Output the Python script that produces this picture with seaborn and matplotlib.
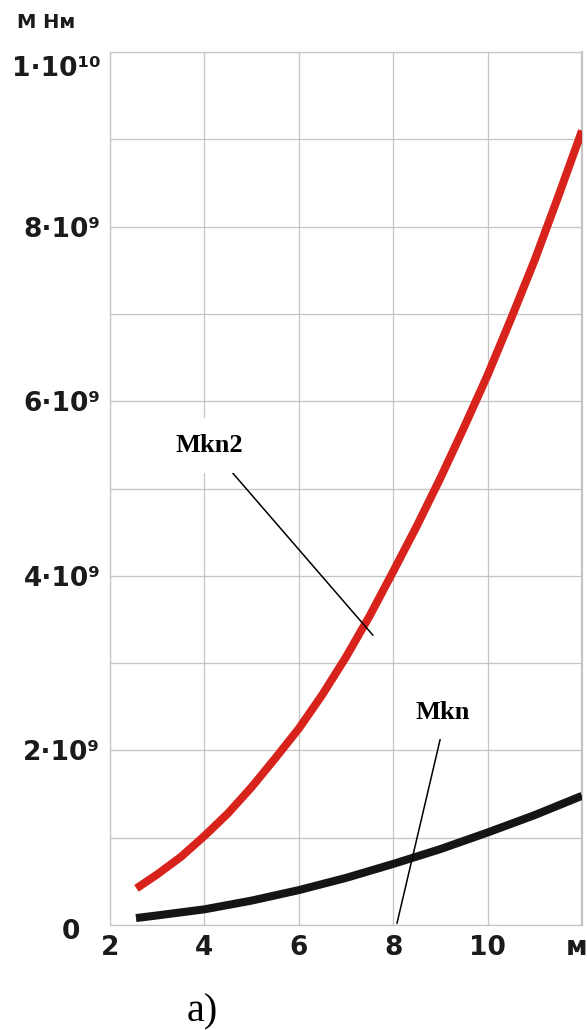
import matplotlib
matplotlib.use("Agg")
import matplotlib.pyplot as plt
import matplotlib.transforms as mtransforms
from matplotlib.ticker import MultipleLocator
import pandas as pd
import seaborn as sns

# Span length, m
span_mkn2 = [2.56, 3.0, 3.5, 4.0, 4.5, 5.0, 5.5, 6.0, 6.5, 7.0, 7.5, 8.0,
             8.5, 9.0, 9.5, 10.0, 10.5, 11.0, 11.5, 12.0]
# Moment Mkn2, N·m
moment_mkn2 = [0.42e9, 0.58e9, 0.78e9, 1.02e9, 1.28e9, 1.58e9, 1.91e9, 2.25e9,
               2.64e9, 3.07e9, 3.54e9, 4.05e9, 4.57e9, 5.12e9, 5.70e9, 6.30e9,
               6.95e9, 7.62e9, 8.35e9, 9.10e9]

span_mkn = [2.55, 3.0, 4.0, 5.0, 6.0, 7.0, 8.0, 9.0, 10.0, 11.0, 12.0]
# Moment Mkn, N·m
moment_mkn = [0.08e9, 0.11e9, 0.18e9, 0.28e9, 0.40e9, 0.54e9, 0.70e9,
              0.87e9, 1.06e9, 1.26e9, 1.48e9]

x_ticks = [2, 4, 6, 8, 10, 12]
x_tick_labels = ["2", "4", "6", "8", "10", "м"]
y_ticks = [0, 2e9, 4e9, 6e9, 8e9, 1e10]
y_tick_labels = ["0", "2·10⁹", "4·10⁹", "6·10⁹", "8·10⁹", "1·10¹⁰"]

sns.set_theme(style="whitegrid")
plt.rcParams["font.family"] = ["DejaVu Sans"]

grid_color = "#c4c4c4"
red = "#d8231c"
black = "#161414"
ink = "#1c1a1a"

fig = plt.figure(figsize=(5.87, 10.30), dpi=100)
ax = fig.add_axes([0.1874, 0.1019, 0.8041, 0.8476])
ax.set_facecolor("white")

df2 = pd.DataFrame({"L": span_mkn2, "M": moment_mkn2})
df1 = pd.DataFrame({"L": span_mkn, "M": moment_mkn})
sns.lineplot(data=df2, x="L", y="M", ax=ax, color=red, linewidth=5.8,
             solid_capstyle="butt", solid_joinstyle="round", zorder=3)
sns.lineplot(data=df1, x="L", y="M", ax=ax, color=black, linewidth=5.8,
             solid_capstyle="butt", solid_joinstyle="round", zorder=3)

ax.set_xlim(2, 12)
ax.set_ylim(0, 1e10)
ax.set_xlabel("")
ax.set_ylabel("")

ax.set_xticks(x_ticks)
ax.set_xticklabels(x_tick_labels, fontsize=19, fontweight="bold", color=ink)
ax.set_yticks(y_ticks)
ax.set_yticklabels(y_tick_labels, fontsize=19, fontweight="bold", color=ink)
ax.yaxis.set_minor_locator(MultipleLocator(1e9))
ax.tick_params(axis="both", which="both", length=0)
ax.tick_params(axis="y", pad=7)
ax.tick_params(axis="x", pad=7)

ax.grid(True, which="both", color=grid_color, linewidth=0.9)
for side in ["left", "bottom", "top", "right"]:
    ax.spines[side].set_visible(True)
    ax.spines[side].set_color(grid_color)
    ax.spines[side].set_linewidth(0.9)
ax.spines["right"].set_linewidth(1.6)

# Curve labels with leader lines
box = dict(boxstyle="square,pad=0.6", fc="white", ec="none")
ax.annotate("Mkn2", xy=(7.57, 3.32e9), xytext=(4.10, 5.49e9),
            fontsize=19, fontweight="bold", family="Liberation Serif",
            color="black", ha="center", va="center", bbox=box, zorder=5,
            arrowprops=dict(arrowstyle="-", color="black", lw=1.1,
                            shrinkA=0, shrinkB=0))
ax.annotate("Mkn", xy=(8.08, 0.02e9), xytext=(9.05, 2.44e9),
            fontsize=19, fontweight="bold", family="Liberation Serif",
            color="black", ha="center", va="center", bbox=box, zorder=5,
            arrowprops=dict(arrowstyle="-", color="black", lw=1.1,
                            shrinkA=0, shrinkB=0, relpos=(0.57, 0.5)))

fig.text(0.029, 0.978, "М Нм", fontsize=14, fontweight="bold",
         color=ink, ha="left", va="center")
fig.text(0.345, 0.018, "a)", fontsize=29, family="Liberation Serif",
         color="black", ha="center", va="center")

# Nudge the end labels of the axes
def shift(label, dx_px, dy_px):
    off = mtransforms.ScaledTranslation(dx_px / 100, dy_px / 100, fig.dpi_scale_trans)
    label.set_transform(label.get_transform() + off)

ylabels = ax.get_yticklabels()
shift(ylabels[0], -20, -4)
shift(ylabels[-1], 0, -14)
xlabels = ax.get_xticklabels()
shift(xlabels[-1], -5, 0)

fig.savefig("out.png", dpi=100, facecolor="white")
